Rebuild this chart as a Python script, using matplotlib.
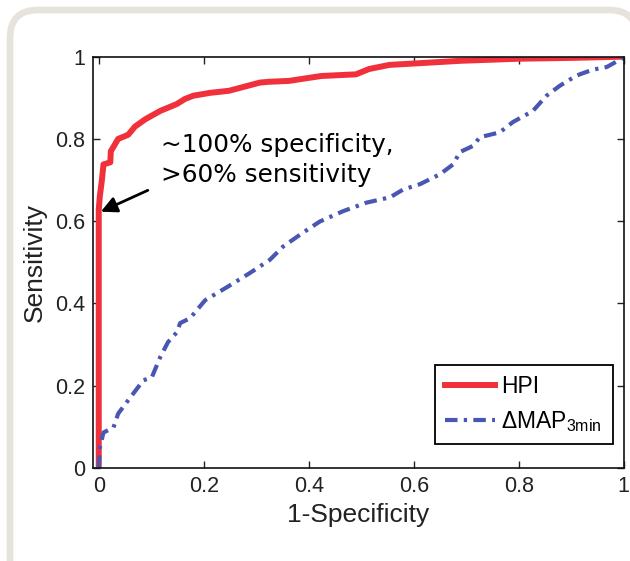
import matplotlib
matplotlib.use("Agg")
import matplotlib.pyplot as plt
from matplotlib.patches import FancyBboxPatch
from matplotlib.transforms import IdentityTransform

plt.rcParams['font.family'] = ['Liberation Sans', 'DejaVu Sans']
plt.rcParams['mathtext.fontset'] = 'custom'
plt.rcParams['mathtext.rm'] = 'Liberation Sans'

# ROC curve of HPI
hpi_fpr = [0, 0, 0.002, 0.006, 0.009, 0.022, 0.023, 0.037, 0.056, 0.069, 0.089,
           0.117, 0.149, 0.164, 0.18, 0.212, 0.248, 0.307, 0.325, 0.362, 0.424,
           0.49, 0.515, 0.554, 0.623, 0.69, 0.80, 0.9, 1.0]
hpi_tpr = [0, 0.628, 0.66, 0.70, 0.738, 0.743, 0.77, 0.80, 0.81, 0.83, 0.848,
           0.868, 0.885, 0.897, 0.905, 0.912, 0.917, 0.937, 0.939, 0.941, 0.953,
           0.957, 0.97, 0.98, 0.985, 0.99, 0.995, 0.997, 1.0]

# ROC curve of delta MAP 3min
map_fpr = [0, 0.002, 0.009, 0.028, 0.037, 0.06, 0.085, 0.101, 0.117, 0.132,
           0.149, 0.155, 0.174, 0.187, 0.203, 0.245, 0.288, 0.326, 0.351, 0.389,
           0.421, 0.465, 0.51, 0.555, 0.58, 0.612, 0.65, 0.675, 0.688, 0.713,
           0.726, 0.764, 0.789, 0.827, 0.853, 0.878, 0.91, 0.94, 0.968, 0.996, 1.0]
map_tpr = [0, 0.049, 0.086, 0.098, 0.132, 0.171, 0.213, 0.22, 0.269, 0.306,
           0.33, 0.352, 0.364, 0.384, 0.408, 0.44, 0.474, 0.506, 0.538, 0.572,
           0.599, 0.624, 0.645, 0.658, 0.677, 0.69, 0.714, 0.738, 0.768, 0.783,
           0.804, 0.816, 0.841, 0.868, 0.905, 0.929, 0.954, 0.968, 0.975, 0.995, 1.0]

ticks = [0, 0.2, 0.4, 0.6, 0.8, 1]
tick_labels = ['0', '0.2', '0.4', '0.6', '0.8', '1']

fig = plt.figure(figsize=(6.3, 5.61), dpi=100)
fig.patch.set_facecolor('white')

# light rounded frame around the panel (pixel coords, runs off right/bottom)
frame = FancyBboxPatch((10, -40), 627, 591, boxstyle="round,pad=0,rounding_size=28",
                       transform=IdentityTransform(), facecolor='white',
                       edgecolor='#e6e3dc', linewidth=4.8, zorder=-10)
fig.add_artist(frame)

ax = fig.add_axes([0.148, 0.166, 0.842, 0.733])
ax.plot(hpi_fpr, hpi_tpr, color='#f0313b', lw=4.3, label='HPI', solid_joinstyle='round')
ax.plot(map_fpr, map_tpr, color='#4a57b2', lw=3.0, linestyle=(0, (3, 1.5, 0.8, 1.5)),
        label=r'$\Delta$MAP$_{\mathrm{3min}}$')

ax.set_xlim(-0.0105, 1.0)
ax.set_ylim(0, 1.0)
ax.set_xticks(ticks)
ax.set_xticklabels(tick_labels)
ax.set_yticks(ticks)
ax.set_yticklabels(tick_labels)
ax.tick_params(direction='in', top=True, right=True, length=5, width=1,
               labelsize=15.5, colors='#222222', pad=6)
for s in ax.spines.values():
    s.set_linewidth(1.2)
    s.set_color('#111111')

ax.set_xlabel('1-Specificity', fontsize=19, color='#222222', labelpad=4)
ax.set_ylabel('Sensitivity', fontsize=19, color='#222222', labelpad=6)

ax.annotate('~100% specificity,\n>60% sensitivity', xy=(0.004, 0.623),
            xytext=(0.118, 0.748), fontsize=17.8, family=['DejaVu Sans'],
            ha='left', va='center', linespacing=1.3,
            arrowprops=dict(arrowstyle='-|>', color='black', lw=2,
                            mutation_scale=24, shrinkA=8, shrinkB=0,
                            relpos=(0.0, 0.05)))

leg = ax.legend(loc='lower right', bbox_to_anchor=(0.979, 0.058), borderaxespad=0,
                fontsize=16.5, handlelength=2.15, fancybox=False, framealpha=1,
                edgecolor='black', borderpad=0.45, labelspacing=0.45, handletextpad=0.3)
leg.get_frame().set_linewidth(1.3)

fig.savefig('out.png', dpi=100)
